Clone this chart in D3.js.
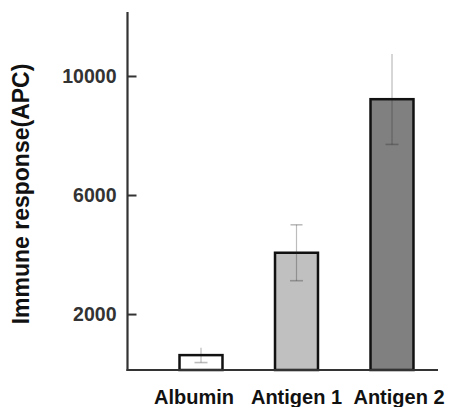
<!DOCTYPE html>
<html>
<head>
<meta charset="utf-8">
<script src="https://cdn.jsdelivr.net/npm/d3@7"></script>
<style>
  html, body { margin: 0; padding: 0; background: #fff; }
  svg { display: block; }
</style>
</head>
<body>
<svg id="chart" width="449" height="407"></svg>
<script>
const categories = ["Albumin", "Antigen 1", "Antigen 2"];
const values = [620, 4060, 9220];
const errors = [250, 940, 1520];
const fills = ["#ffffff", "#c0c0c0", "#808080"];
const yTicks = [2000, 6000, 10000];
const yTitle = "Immune response(APC)";

const svg = d3.select("#chart");
const font = "'Liberation Sans', Arial, sans-serif";

const y = d3.scaleLinear().domain([120, 12150]).range([370, 12]);
const x = d3.scaleBand().domain(categories).range([153.25, 439.75])
  .paddingInner(0.55).paddingOuter(0.275);
const xLabel = d3.scalePoint().domain(categories).range([194, 399]);

// bars
svg.append("g").selectAll("rect").data(categories).join("rect")
  .attr("x", d => x(d))
  .attr("y", (d, i) => y(values[i]))
  .attr("width", x.bandwidth())
  .attr("height", (d, i) => y(y.domain()[0]) - y(values[i]))
  .attr("fill", (d, i) => fills[i])
  .attr("stroke", "#111")
  .attr("stroke-width", 2.5);

// error bars
const eb = svg.append("g").attr("stroke", "#222").attr("stroke-opacity", 0.3).attr("stroke-width", 1.2);
categories.forEach((c, i) => {
  const cx = x(c) + x.bandwidth() / 2;
  eb.append("line").attr("x1", cx).attr("x2", cx)
    .attr("y1", y(values[i] + errors[i])).attr("y2", y(values[i] - errors[i]));
  eb.append("line").attr("x1", cx - 6.5).attr("x2", cx + 6.5)
    .attr("y1", y(values[i] - errors[i])).attr("y2", y(values[i] - errors[i]))
    .attr("stroke-width", 1.6);
  if (i === 1) {
    eb.append("line").attr("x1", cx - 6).attr("x2", cx + 6)
      .attr("y1", y(values[i] + errors[i])).attr("y2", y(values[i] + errors[i]))
      .attr("stroke-width", 1.6);
  }
});

// y axis
const yAxis = d3.axisLeft(y).tickValues(yTicks).tickSize(-9).tickPadding(11).tickFormat(d3.format("d"));
const gy = svg.append("g").attr("transform", "translate(127.5,0)").call(yAxis);
gy.select(".domain").remove();
gy.append("line").attr("x1", 0).attr("x2", 0).attr("y1", 12).attr("y2", 371)
  .attr("stroke", "#333").attr("stroke-width", 2.2);
gy.selectAll(".tick line").attr("stroke", "#333").attr("stroke-width", 2);
gy.selectAll(".tick text").attr("font-family", font).attr("font-size", 19.5)
  .attr("font-weight", "bold").attr("fill", "#333");

// x axis line
svg.append("line").attr("x1", 126.5).attr("x2", 438).attr("y1", 370).attr("y2", 370)
  .attr("stroke", "#333").attr("stroke-width", 2.2);

// x labels
svg.append("g").selectAll("text").data(categories).join("text")
  .attr("x", d => xLabel(d)).attr("y", 404)
  .attr("text-anchor", "middle")
  .attr("font-family", font).attr("font-size", 20).attr("font-weight", "bold")
  .attr("fill", "#111")
  .text(d => d);

// y title
svg.append("text")
  .attr("transform", "translate(29,194) rotate(-90)")
  .attr("text-anchor", "middle")
  .attr("font-family", font).attr("font-size", 23).attr("font-weight", "bold")
  .attr("fill", "#111")
  .text(yTitle);
</script>
</body>
</html>
